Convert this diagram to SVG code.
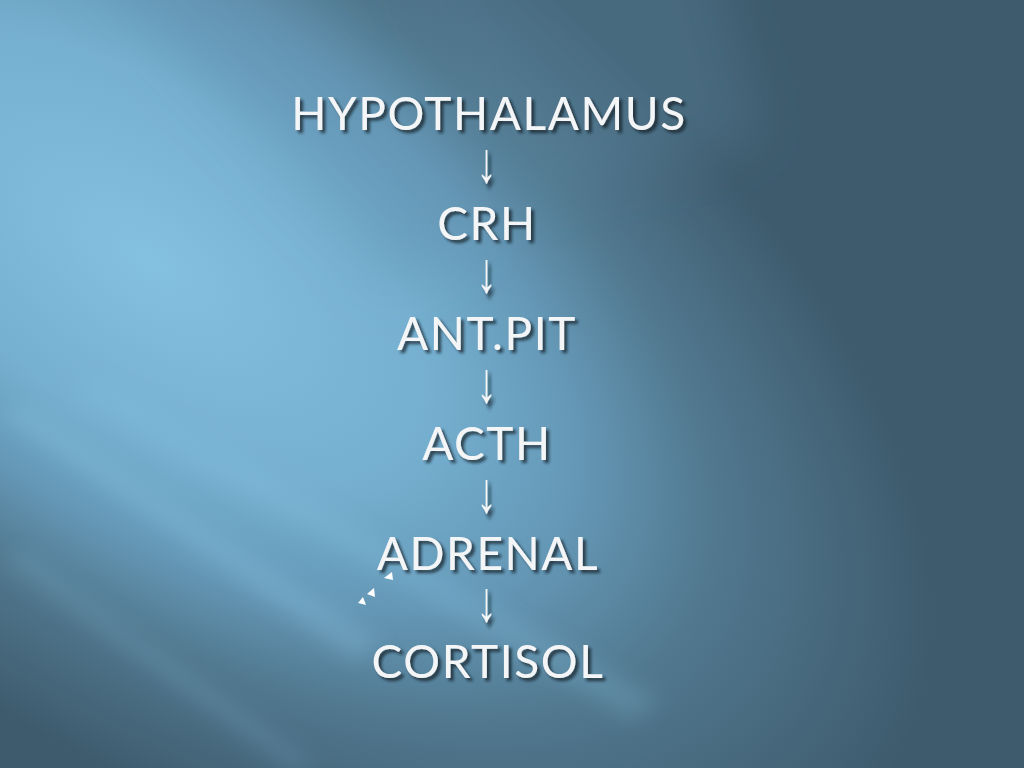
<svg xmlns="http://www.w3.org/2000/svg" width="1024" height="768" viewBox="0 0 1024 768">
  <defs>
    <radialGradient id="bg" gradientUnits="userSpaceOnUse" cx="0" cy="0" r="1" gradientTransform="translate(150,260) rotate(35) scale(900,460)">
      <stop offset="0" stop-color="#84c0df"/>
      <stop offset="0.35" stop-color="#76b0d1"/>
      <stop offset="0.55" stop-color="#6497b5"/>
      <stop offset="0.72" stop-color="#51788f"/>
      <stop offset="1" stop-color="#3e5b6d"/>
    </radialGradient>
    <filter id="blur" x="-50%" y="-50%" width="200%" height="200%">
      <feGaussianBlur stdDeviation="26"/>
    </filter>
    <filter id="blur2" x="-50%" y="-50%" width="200%" height="200%">
      <feGaussianBlur stdDeviation="10"/>
    </filter>
    <filter id="shadow" x="-10%" y="-30%" width="120%" height="160%">
      <feDropShadow dx="3" dy="3" stdDeviation="1.8" flood-color="#0a1a24" flood-opacity="0.75"/>
    </filter>
    <style>
      .label { font-family: Lato, "Open Sans", "Liberation Sans", sans-serif; font-size: 46px; fill: #f3f5f6; text-anchor: middle; letter-spacing: 1.6px; filter: url(#shadow); }
      .arrow { font-family: "Liberation Sans", "DejaVu Sans", sans-serif; font-size: 40px; fill: #f3f5f6; text-anchor: middle; filter: url(#shadow); }
      .tri { fill: #ffffff; }
    </style>
  </defs>

  <g id="background">
    <rect width="1024" height="768" fill="url(#bg)"/>
    <g filter="url(#blur)">
      <polygon points="70,-60 200,-80 480,240 390,290" fill="#5f90ad" opacity="0.3"/>
      <polygon points="380,-80 700,-80 760,140 520,200" fill="#5a86a1" opacity="0.35"/>
    </g>
    <g filter="url(#blur2)">
      <polygon points="0,415 24,405 380,640 356,660" fill="#8ac4e2" opacity="0.3"/>
      <polygon points="70,390 100,380 660,700 630,720" fill="#8ac4e2" opacity="0.22"/>
      <polygon points="0,560 24,550 320,768 290,768" fill="#8ac4e2" opacity="0.18"/>
    </g>
  </g>

  <g id="connectors">
    <text class="arrow" transform="translate(486.5,182) scale(1,1.42)">↓</text>
    <text class="arrow" transform="translate(486.5,292) scale(1,1.42)">↓</text>
    <text class="arrow" transform="translate(486.5,402) scale(1,1.42)">↓</text>
    <text class="arrow" transform="translate(486.5,512) scale(1,1.42)">↓</text>
    <text class="arrow" transform="translate(486.5,621) scale(1,1.42)">↓</text>
  </g>

  <g id="node-hypothalamus"><text class="label" x="489" y="130">HYPOTHALAMUS</text></g>
  <g id="node-crh"><text class="label" x="487" y="240">CRH</text></g>
  <g id="node-antpit"><text class="label" x="487" y="350">ANT.PIT</text></g>
  <g id="node-acth"><text class="label" x="487" y="460">ACTH</text></g>
  <g id="node-adrenal"><text class="label" x="488" y="570">ADRENAL</text></g>
  <g id="node-cortisol"><text class="label" x="488" y="678">CORTISOL</text></g>

  <g id="marks">
    <polygon class="tri" points="392,572 384,578 393,580"/>
    <polygon class="tri" points="374,588 367,594 375,597"/>
    <polygon class="tri" points="363,597 358,603 366,605"/>
  </g>
</svg>
